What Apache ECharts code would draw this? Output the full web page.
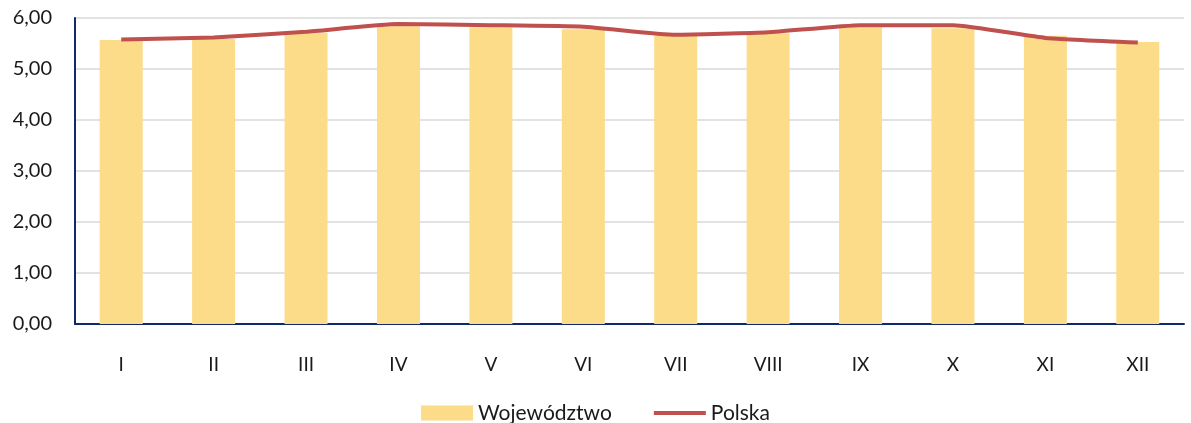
<!DOCTYPE html>
<html><head><meta charset="utf-8">
<script src="https://cdn.jsdelivr.net/npm/echarts@6/dist/echarts.min.js"></script>
<style>html,body{margin:0;padding:0;background:#fff}#c{width:1191px;height:423px}</style>
</head><body><div id="c"></div>
<script>
const categories = ['I','II','III','IV','V','VI','VII','VIII','IX','X','XI','XII'];
const wojewodztwo = [5.57, 5.59, 5.71, 5.84, 5.82, 5.78, 5.65, 5.70, 5.82, 5.80, 5.65, 5.53];
const polska = [5.58, 5.62, 5.73, 5.88, 5.86, 5.83, 5.67, 5.72, 5.86, 5.86, 5.61, 5.52];
const yTicks = { min: 0, max: 6, interval: 1 };
const font = 'Lato, "Open Sans", sans-serif';
const chart = echarts.init(document.getElementById('c'));
chart.setOption({
  animation: false,
  grid: { left: 75, right: 7, top: 18, bottom: 99, containLabel: false },
  legend: {
    top: 396, left: 'center', itemGap: 42, itemWidth: 52, itemHeight: 15,
    textStyle: { fontFamily: font, fontSize: 21, color: '#1a1a1a', padding: 0, lineHeight: 24 },
    data: [
      { name: 'Województwo', icon: 'rect' },
      { name: 'Polska', icon: 'path://M0,0 L54,0 L54,4 L0,4 Z', itemStyle: { color: '#C0504D' } }
    ]
  },
  xAxis: {
    type: 'category', data: categories,
    axisLine: { lineStyle: { color: '#0f2a6b', width: 2 } },
    axisTick: { show: false },
    axisLabel: { fontFamily: font, fontSize: 19, color: '#1a1a1a', margin: 31 }
  },
  yAxis: {
    type: 'value', min: yTicks.min, max: yTicks.max, interval: yTicks.interval,
    axisLine: { show: true, lineStyle: { color: '#0f2a6b', width: 2 } },
    axisTick: { show: false },
    splitLine: { lineStyle: { color: '#d9d9d9', width: 1.5 } },
    axisLabel: { fontFamily: font, fontSize: 20, color: '#1a1a1a', margin: 23,
      formatter: v => v.toFixed(2).replace('.', ',') }
  },
  series: [
    { name: 'Województwo', type: 'bar', data: wojewodztwo, barWidth: 43,
      itemStyle: { color: '#FCDC88' } },
    { name: 'Polska', type: 'line', data: polska, smooth: 0.15, symbol: 'none',
      lineStyle: { color: '#C0504D', width: 4 }, itemStyle: { color: '#C0504D' } }
  ]
});
</script></body></html>
